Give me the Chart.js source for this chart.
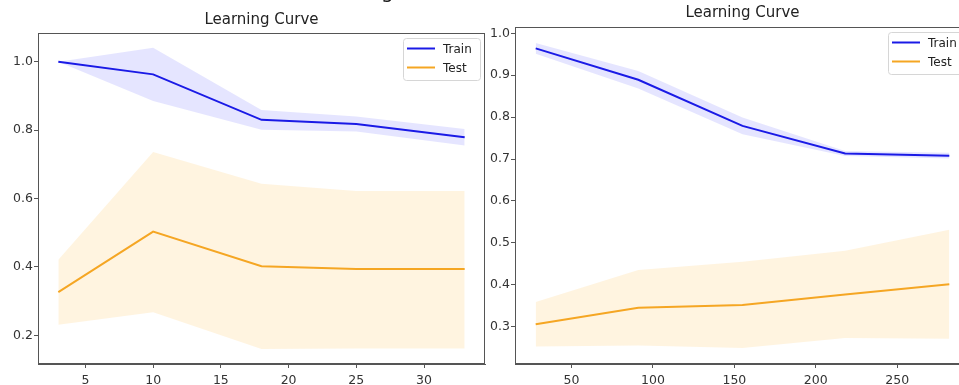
<!DOCTYPE html>
<html><head><meta charset="utf-8">
<script src="https://cdn.jsdelivr.net/npm/chart.js@4.4.0/dist/chart.umd.min.js"></script>
<style>
html,body{margin:0;padding:0;background:#fff;overflow:hidden;width:959px;height:385px}
canvas{position:absolute;top:0}
#c1{left:0}
#c2{left:470px}
</style></head><body>
<canvas id="c1" width="490" height="385"></canvas>
<canvas id="c2" width="530" height="385"></canvas>
<script>
// ---------- data ----------
const chartTitle = 'Learning Curve';
const seriesNames = ['Train', 'Test'];

const leftSizes      = [3, 10, 18, 25, 33];
const leftTrainMean  = [1.000, 0.963, 0.830, 0.818, 0.779];
const leftTrainUpper = [1.000, 1.041, 0.859, 0.840, 0.803];
const leftTrainLower = [1.000, 0.885, 0.801, 0.796, 0.755];
const leftTestMean   = [0.326, 0.503, 0.402, 0.394, 0.394];
const leftTestUpper  = [0.421, 0.736, 0.643, 0.622, 0.622];
const leftTestLower  = [0.231, 0.267, 0.160, 0.161, 0.161];
const leftXTicks = [5, 10, 15, 20, 25, 30];
const leftYTicks = [0.2, 0.4, 0.6, 0.8, 1.0];

const rightSizes      = [28, 91, 155, 218, 282];
const rightTrainMean  = [0.964, 0.889, 0.779, 0.713, 0.708];
const rightTrainUpper = [0.977, 0.910, 0.799, 0.719, 0.715];
const rightTrainLower = [0.951, 0.868, 0.759, 0.707, 0.701];
const rightTestMean   = [0.306, 0.345, 0.352, 0.377, 0.401];
const rightTestUpper  = [0.359, 0.435, 0.455, 0.481, 0.531];
const rightTestLower  = [0.253, 0.255, 0.249, 0.273, 0.271];
const rightXTicks = [50, 100, 150, 200, 250];
const rightYTicks = [0.3, 0.4, 0.5, 0.6, 0.7, 0.8, 0.9, 1.0];

// ---------- styling ----------
const BLUE = '#1a1ae6';
const ORANGE = '#f5a623';
const BLUE_FILL = 'rgba(0,0,255,0.10)';
const ORANGE_FILL = 'rgba(255,165,0,0.12)';
const SPINE = '#555';
const TEXT = '#333';
const FONT = 'DejaVu Sans';

function pts(xs, ys) { return xs.map((x, i) => ({x: x, y: ys[i]})); }

const framePlugin = {
  id: 'frame',
  afterDraw(chart, args, opts) {
    const ctx = chart.ctx, ca = chart.chartArea;
    ctx.save();
    // spines
    ctx.strokeStyle = SPINE; ctx.lineWidth = 1;
    ctx.strokeRect(Math.round(ca.left) + 0.5, Math.round(ca.top) + 0.5,
                   Math.round(ca.right - ca.left) - 1, Math.round(ca.bottom - ca.top) - 1);
    // title
    ctx.fillStyle = '#222';
    ctx.font = '15px "' + FONT + '"';
    ctx.textAlign = 'center'; ctx.textBaseline = 'alphabetic';
    ctx.fillText(chartTitle, (ca.left + ca.right) / 2, opts.titleBaseline);
    // legend
    const bw = 77, bh = 42;
    const bx = ca.right - 5 - bw, by = ca.top + 5;
    ctx.fillStyle = 'rgba(255,255,255,0.8)';
    ctx.strokeStyle = '#d6d6d6';
    ctx.beginPath();
    if (ctx.roundRect) ctx.roundRect(bx + 0.5, by + 0.5, bw, bh, 3); else ctx.rect(bx + 0.5, by + 0.5, bw, bh);
    ctx.fill(); ctx.stroke();
    const cols = [BLUE, ORANGE];
    const rows = [by + 10.5, by + 29.5];
    ctx.font = '12px "' + FONT + '"';
    ctx.textAlign = 'left'; ctx.textBaseline = 'middle';
    for (let i = 0; i < 2; i++) {
      ctx.strokeStyle = cols[i]; ctx.lineWidth = 2;
      ctx.beginPath(); ctx.moveTo(bx + 4, rows[i]); ctx.lineTo(bx + 32, rows[i]); ctx.stroke();
      ctx.fillStyle = '#222';
      ctx.fillText(seriesNames[i], bx + 40, rows[i] + 1);
    }
    // clipped super-title fragment
    if (opts.supFragment) {
      ctx.fillStyle = '#111';
      ctx.font = '20px "' + FONT + '"';
      ctx.textAlign = 'left'; ctx.textBaseline = 'alphabetic';
      ctx.fillText(opts.supFragment.text, opts.supFragment.x, opts.supFragment.y);
    }
    ctx.restore();
  }
};

function makeChart(id, d) {
  const datasets = [
    {label: 'trainLower', data: pts(d.sizes, d.trainLower), borderWidth: 0, pointRadius: 0, fill: false, order: 5},
    {label: 'trainUpper', data: pts(d.sizes, d.trainUpper), borderWidth: 0, pointRadius: 0, fill: '-1', backgroundColor: BLUE_FILL, order: 4},
    {label: 'testLower', data: pts(d.sizes, d.testLower), borderWidth: 0, pointRadius: 0, fill: false, order: 3},
    {label: 'testUpper', data: pts(d.sizes, d.testUpper), borderWidth: 0, pointRadius: 0, fill: '-1', backgroundColor: ORANGE_FILL, order: 2},
    {label: seriesNames[0], data: pts(d.sizes, d.trainMean), borderColor: BLUE, borderWidth: 2, pointRadius: 0, fill: false, order: 1},
    {label: seriesNames[1], data: pts(d.sizes, d.testMean), borderColor: ORANGE, borderWidth: 2, pointRadius: 0, fill: false, order: 0}
  ];
  const axisCommon = {
    type: 'linear',
    grid: {display: true, drawOnChartArea: false, drawTicks: true, tickLength: 4, tickColor: SPINE, lineWidth: 1},
    border: {display: true, color: SPINE, width: 1},
  };
  return new Chart(document.getElementById(id), {
    type: 'line',
    data: {datasets: datasets},
    options: {
      responsive: false, animation: false, devicePixelRatio: 1,
      layout: {padding: d.padding},
      elements: {line: {tension: 0}},
      plugins: {legend: {display: false}, tooltip: {enabled: false}, title: {display: false},
        frame: {titleBaseline: d.titleBaseline, supFragment: d.supFragment}},
      scales: {
        x: Object.assign({}, axisCommon, {
          position: 'bottom', min: d.xMin, max: d.xMax,
          afterBuildTicks: s => { s.ticks = d.xTicks.map(v => ({value: v})); },
          afterFit: s => { s.height = 21; },
          ticks: {font: {family: FONT, size: 12.5}, color: TEXT, padding: 5, maxRotation: 0, autoSkip: false,
                  callback: v => String(v)}
        }),
        y: Object.assign({}, axisCommon, {
          position: 'left', min: d.yMin, max: d.yMax,
          afterBuildTicks: s => { s.ticks = d.yTicks.map(v => ({value: v})); },
          afterFit: s => { s.width = d.yAxisWidth; },
          ticks: {font: {family: FONT, size: 12.5}, color: TEXT, padding: 1, autoSkip: false,
                  callback: v => Number(v).toFixed(1)}
        })
      }
    },
    plugins: [framePlugin]
  });
}

makeChart('c1', {
  sizes: leftSizes, trainMean: leftTrainMean, trainUpper: leftTrainUpper, trainLower: leftTrainLower,
  testMean: leftTestMean, testUpper: leftTestUpper, testLower: leftTestLower,
  xTicks: leftXTicks, yTicks: leftYTicks,
  xMin: 1.5, xMax: 34.5, yMin: 0.116, yMax: 1.084,
  padding: {left: 0, top: 33, right: 5, bottom: 0}, yAxisWidth: 38, titleBaseline: 24,
  supFragment: {text: 'g', x: 381, y: -2}
});

makeChart('c2', {
  sizes: rightSizes, trainMean: rightTrainMean, trainUpper: rightTrainUpper, trainLower: rightTrainLower,
  testMean: rightTestMean, testUpper: rightTestUpper, testLower: rightTestLower,
  xTicks: rightXTicks, yTicks: rightYTicks,
  xMin: 15.3, xMax: 294.7, yMin: 0.211, yMax: 1.015,
  padding: {left: 0, top: 27, right: 30, bottom: 0}, yAxisWidth: 45, titleBaseline: 17,
  supFragment: null
});
</script>
</body></html>
